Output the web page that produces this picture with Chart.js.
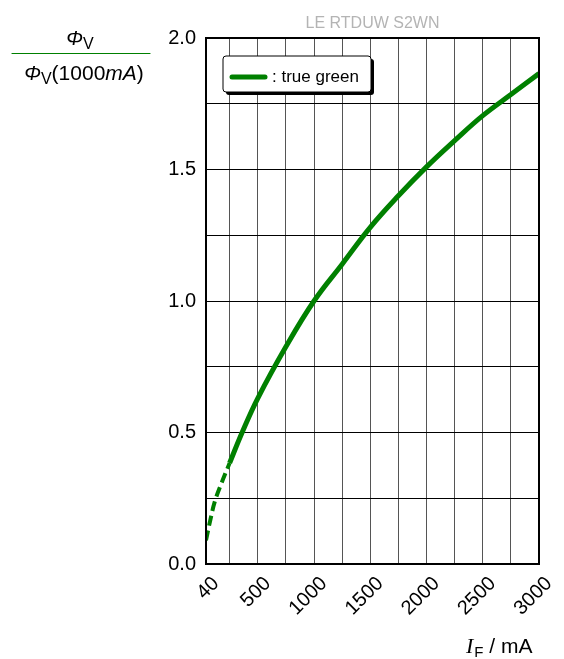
<!DOCTYPE html>
<html>
<head>
<meta charset="utf-8">
<script src="https://cdn.jsdelivr.net/npm/chart.js@4.4.1/dist/chart.umd.min.js"></script>
<style>
  html, body { margin: 0; padding: 0; background: #fff; }
  #wrap { width: 564px; height: 659px; }
</style>
</head>
<body>
<div id="wrap"><canvas id="luxChart" width="564" height="659"></canvas></div>
<script>
// values
const dashedCurrent = [40, 80, 120, 180, 250];
const dashedFlux = [0.09, 0.17, 0.24, 0.31, 0.384];
const solidCurrent = [250, 361, 500, 750, 1000, 1250, 1500, 1750, 2000, 2250, 2500, 2750, 3000];
const solidFlux = [0.384, 0.5, 0.63, 0.826, 1.0, 1.14, 1.28, 1.40, 1.51, 1.61, 1.705, 1.785, 1.865];
const xGridTicks = [40, 250, 500, 750, 1000, 1250, 1500, 1750, 2000, 2250, 2500, 2750, 3000];
const xLabelTicks = [40, 500, 1000, 1500, 2000, 2500, 3000];
const seriesName = ': true green';
const chartTitle = 'LE RTDUW S2WN';

const toPoints = (xs, ys) => xs.map((x, i) => ({ x: x, y: ys[i] }));
const FONT = '"Liberation Sans", Arial, sans-serif';

const extras = {
    id: 'extras',
    afterDraw(chart) {
        const ctx = chart.ctx;
        const a = chart.chartArea;
        ctx.save();

        // frame
        ctx.strokeStyle = '#000';
        ctx.lineWidth = 2;
        ctx.strokeRect(a.left, a.top, a.right - a.left, a.bottom - a.top);

        // title
        ctx.fillStyle = '#b4b4b4';
        ctx.font = '16px ' + FONT;
        ctx.textAlign = 'center';
        ctx.textBaseline = 'alphabetic';
        ctx.fillText(chartTitle, (a.left + a.right) / 2, 28);

        // legend box
        const bx = 223, by = 56, bw = 148, bh = 36;
        ctx.fillStyle = '#000';
        ctx.beginPath();
        ctx.roundRect(bx + 3, by + 3, bw, bh, 3);
        ctx.fill();
        ctx.fillStyle = '#fff';
        ctx.strokeStyle = '#000';
        ctx.lineWidth = 1;
        ctx.beginPath();
        ctx.roundRect(bx, by, bw, bh, 3);
        ctx.fill();
        ctx.stroke();
        ctx.strokeStyle = '#008000';
        ctx.lineWidth = 5;
        ctx.lineCap = 'round';
        ctx.beginPath();
        ctx.moveTo(232, 77);
        ctx.lineTo(265, 77);
        ctx.stroke();
        ctx.fillStyle = '#000';
        ctx.textAlign = 'left';
        ctx.font = '17px ' + FONT;
        ctx.fillText(seriesName, 272, 82);

        // y axis title as a fraction
        const drawParts = (parts, cx, baseline) => {
            let w = 0;
            parts.forEach(p => { ctx.font = p.font; w += ctx.measureText(p.t).width; });
            let x = cx - w / 2;
            parts.forEach(p => {
                ctx.font = p.font;
                ctx.fillText(p.t, x, baseline + (p.dy || 0));
                x += ctx.measureText(p.t).width;
            });
        };
        ctx.fillStyle = '#000';
        drawParts([
            { t: 'Φ', font: 'italic 20px ' + FONT },
            { t: 'V', font: '16px ' + FONT, dy: 4 }
        ], 80, 45);
        ctx.lineWidth = 1.2;
        ctx.beginPath();
        ctx.moveTo(12, 53.5);
        ctx.lineTo(150, 53.5);
        ctx.stroke();
        drawParts([
            { t: 'Φ', font: 'italic 20px ' + FONT },
            { t: 'V', font: '16px ' + FONT, dy: 4 },
            { t: '(1000', font: '21px ' + FONT },
            { t: 'mA', font: 'italic 21px ' + FONT },
            { t: ')', font: '21px ' + FONT }
        ], 84, 80);

        // x axis title
        const parts = [
            { t: 'I', font: 'italic 22px "Liberation Serif", serif' },
            { t: 'F', font: '15px ' + FONT, dy: 4 },
            { t: ' / mA', font: '21px ' + FONT }
        ];
        let x = 466;
        parts.forEach(p => {
            ctx.font = p.font;
            ctx.fillText(p.t, x, 653 + (p.dy || 0));
            x += ctx.measureText(p.t).width + (p.t === 'I' ? 1 : 0);
        });

        ctx.restore();
    }
};

const ctx = document.getElementById('luxChart').getContext('2d');
new Chart(ctx, {
    type: 'line',
    data: {
        datasets: [{
            label: 'dashed',
            data: toPoints(dashedCurrent, dashedFlux),
            borderColor: '#008000',
            borderWidth: 4,
            borderDash: [10, 5],
            pointRadius: 0,
            fill: false,
            tension: 0.4
        }, {
            label: seriesName,
            data: toPoints(solidCurrent, solidFlux),
            borderColor: '#008000',
            borderWidth: 5,
            pointRadius: 0,
            fill: false,
            tension: 0.4
        }]
    },
    options: {
        responsive: false,
        animation: false,
        devicePixelRatio: 1,
        layout: { padding: { left: 0, right: 25, top: 38, bottom: 0 } },
        plugins: {
            legend: { display: false },
            title: { display: false },
            tooltip: { enabled: false }
        },
        scales: {
            x: {
                type: 'linear',
                min: 40,
                max: 3000,
                afterBuildTicks: axis => { axis.ticks = xGridTicks.map(v => ({ value: v })); },
                afterFit: axis => { axis.height = 95; },
                border: { display: false },
                grid: { color: '#555', lineWidth: 1, drawTicks: false },
                ticks: {
                    font: { family: FONT, size: 20 },
                    color: '#000',
                    minRotation: 45,
                    maxRotation: 45,
                    padding: 8,
                    labelOffset: 10,
                    autoSkip: false,
                    callback: v => xLabelTicks.includes(v) ? String(v) : ''
                }
            },
            y: {
                min: 0,
                max: 2,
                afterFit: axis => { axis.width = 206; },
                border: { display: false },
                grid: { color: '#000', lineWidth: 1, drawTicks: false },
                ticks: {
                    stepSize: 0.25,
                    font: { family: FONT, size: 20 },
                    color: '#000',
                    padding: 10,
                    callback: v => (Math.abs(v * 2 - Math.round(v * 2)) < 1e-9) ? v.toFixed(1) : ''
                }
            }
        }
    },
    plugins: [extras]
});
</script>
</body>
</html>
